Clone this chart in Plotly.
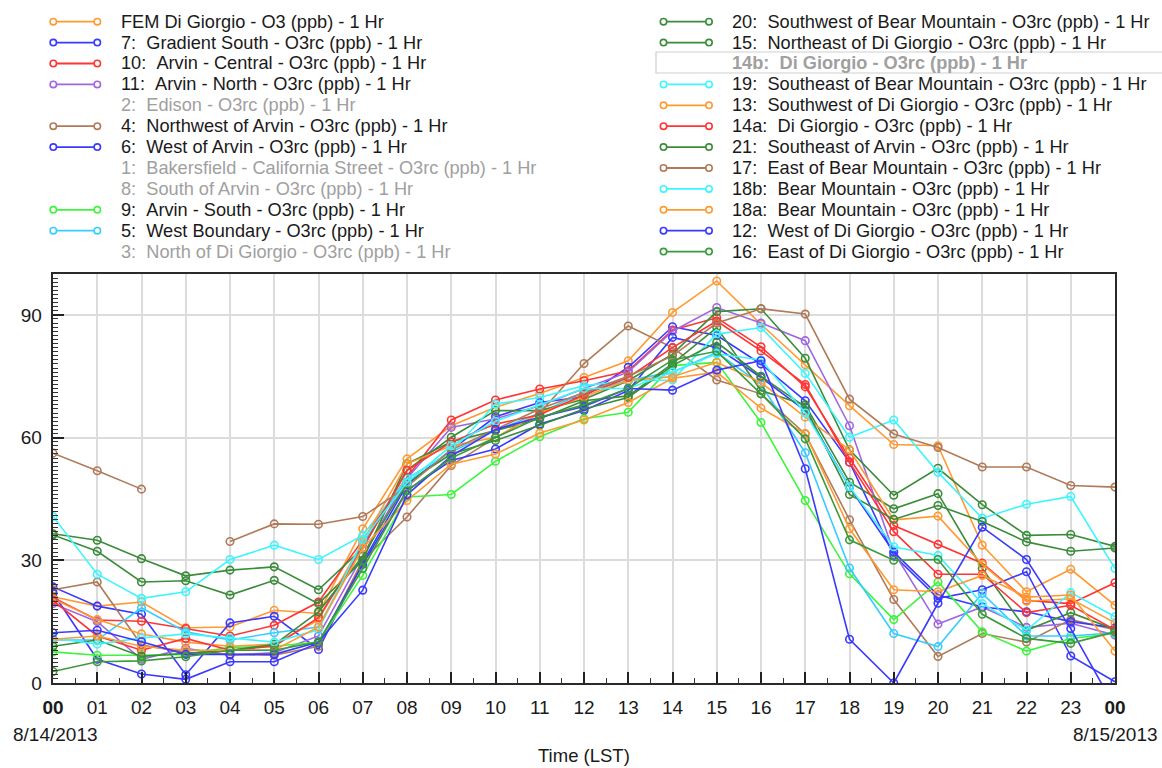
import plotly.graph_objects as go

W, H = 1162, 768

# ---------------- data: hourly O3, 8/14/2013 00:00 to 8/15/2013 00:00 (ppb) ----------------
hours = list(range(25))
hour_labels = ["<b>00</b>"] + [f"{h:02d}" for h in range(1, 24)] + ["<b>00</b>"]

fem_di_giorgio = [21.1, 18.8, 19.8, 13.5, 13.7, 17.8, 17.0, 37.7, 54.8, 62.9, 67.4, 70.8, 74.7,
                  78.8, 90.6, 98.3, 87.7, 77.8, 67.8, 58.3, 58.0, 33.7, 22.3, 27.8, 19.0]
gradient_south_7 = [23.5, 18.8, 16.8, 2.0, 14.7, 16.3, 8.2, 29.5, 48.5, 57.0, 65.1, 68.6, 70.0,
                    77.2, 87.1, 85.0, 78.0, 69.0, 54.0, 31.2, 20.7, 22.8, 27.2, 6.6, 0.3]
arvin_central_10 = [20.9, 15.4, 15.1, 13.3, 11.5, 14.1, 19.8, 35.0, 50.3, 64.3, 69.2, 71.9, 73.9,
                    76.3, 86.3, 89.3, 82.2, 72.4, 55.0, 38.5, 33.9, 29.3, 20.2, 19.4, 24.5]
arvin_north_11 = [19.4, 15.0, 5.8, 8.5, 6.8, 7.4, 11.5, 31.2, 50.0, 62.5, 64.6, 67.8, 72.0,
                  76.0, 86.0, 91.8, 88.0, 83.7, 62.9, 32.0, 14.4, 18.6, 13.6, 14.6, 11.7]
nw_of_arvin_4 = [22.8, 24.7, 9.3, 7.5, 7.0, 6.8, 9.0, 30.0, 40.6, 53.2, 60.0, 66.0, 78.1,
                 87.3, 82.0, 74.1, 70.7, 60.9, 39.9, 20.4, 6.5, 12.1, 10.0, 15.5, 13.0]
west_of_arvin_6 = [22.0, 5.8, 2.2, 0.9, 5.2, 5.2, 9.8, 29.0, 47.1, 54.4, 57.2, 63.3, 66.6,
                   71.5, 84.5, 82.0, 74.7, 66.6, 47.9, 32.0, 21.5, 18.6, 17.4, 15.0, 13.5]
arvin_south_9 = [7.6, 6.8, 6.8, 7.0, 8.7, 9.0, 10.0, 26.3, 45.5, 46.1, 54.2, 60.2, 64.6,
                 66.2, 77.6, 78.4, 63.7, 44.6, 26.7, 15.5, 24.7, 12.5, 7.8, 10.9, 12.1]
west_boundary_5 = [10.5, 10.5, 18.4, 12.5, 10.5, 12.3, 13.7, 34.0, 50.0, 56.5, 61.7, 66.0, 71.0,
                   74.0, 76.0, 80.8, 73.0, 56.3, 28.1, 12.1, 8.9, 21.9, 11.5, 11.5, 12.3]
sw_bear_mtn_20 = [36.5, 34.9, 30.4, 26.2, 27.6, 28.4, 22.8, 33.0, 52.0, 60.1, 66.6, 66.6, 69.4,
                  73.9, 80.4, 90.8, 91.5, 79.4, 57.0, 45.9, 52.5, 43.6, 36.1, 36.3, 33.4]
ne_di_giorgio_15 = [36.2, 32.2, 24.7, 25.0, 21.5, 25.1, 19.4, 30.0, 53.6, 59.0, 61.7, 64.6, 69.0,
                    70.2, 78.1, 86.9, 71.5, 68.0, 49.1, 42.6, 46.3, 28.0, 12.9, 17.2, 13.1]
se_bear_mtn_19 = [40.7, 26.6, 20.7, 22.3, 30.2, 33.7, 30.2, 36.1, 50.0, 56.5, 68.2, 69.8, 72.7,
                  73.9, 74.1, 85.3, 86.9, 75.7, 60.1, 64.3, 51.5, 40.3, 43.7, 45.6, 28.0]
sw_di_giorgio_13 = [20.6, 15.5, 12.0, 10.0, 9.0, 9.5, 15.4, 34.5, 53.6, 58.0, 60.0, 66.0, 70.0,
                    74.0, 74.9, 78.4, 73.5, 65.0, 57.0, 39.9, 40.8, 29.0, 20.0, 20.6, 14.7]
di_giorgio_14a = [20.2, 11.5, 8.0, 10.9, 8.0, 9.0, 16.0, 33.0, 52.0, 58.9, 63.3, 65.6, 70.5,
                  74.7, 82.0, 88.5, 81.2, 73.0, 54.0, 37.0, 26.6, 26.6, 17.2, 19.0, 13.0]
se_of_arvin_21 = [9.0, 10.5, 6.5, 7.2, 8.0, 9.4, 17.4, 31.0, 49.0, 56.0, 59.3, 63.0, 67.0,
                  69.8, 77.6, 83.3, 75.0, 67.5, 46.1, 40.0, 43.4, 39.5, 34.5, 32.2, 33.0]
e_bear_mtn_17 = [56.2, 51.9, 47.4, None, 34.6, 38.9, 38.8, 40.7, 48.0, 57.0, 62.0, 67.0, 71.0,
                 75.0, 80.0, 88.0, 91.5, 90.2, 69.4, 60.9, 57.6, 52.8, 52.8, 48.3, 47.9]
bear_mtn_18b = [11.0, 9.5, 11.0, 12.0, 11.0, 10.0, 13.0, 35.0, 49.0, 58.0, 64.0, 68.0, 72.0,
                72.0, 76.0, 80.5, 79.0, 66.0, 48.0, 33.3, 31.2, 19.4, 12.9, 22.1, 16.2]
bear_mtn_18a = [10.7, 11.5, 9.0, 8.0, 8.0, 8.0, 13.7, 33.0, 44.6, 53.5, 56.0, 61.1, 64.3,
                68.6, 74.5, 76.0, 67.2, 61.0, 37.7, 22.8, 22.3, 26.3, 21.0, 21.5, 7.8]
w_di_giorgio_12 = [12.3, 12.9, 10.1, 7.0, 7.0, 7.0, 10.0, 22.7, 46.0, 55.5, 62.0, 65.0, 67.6,
                   72.0, 71.6, 76.5, 78.8, 52.4, 10.7, 0.0, 19.5, 38.1, 30.2, 13.3, -6.0]
e_di_giorgio_16 = [2.8, 5.2, 5.4, 6.4, 8.0, 8.0, 10.1, 28.0, 47.0, 55.0, 60.0, 65.0, 68.0,
                   72.0, 79.0, 81.1, 70.7, 59.7, 35.0, 30.0, 30.2, 16.8, 10.9, 9.7, 12.5]

ORANGE, BLUE, RED, PURPLE = "#ff9a33", "#3a3aff", "#ff3434", "#a066e0"
BROWN, LIME, SKY, DKGREEN = "#b07a58", "#3cf53c", "#38cdff", "#3a8c3a"
CYAN, GREEN = "#3ef5ff", "#3c9a3c"
HIDDEN = None

# legend columns: (label, series, colour); HIDDEN rows are switched off
left_column = [
    ("FEM Di Giorgio - O3 (ppb) - 1 Hr", fem_di_giorgio, ORANGE),
    ("7:  Gradient South - O3rc (ppb) - 1 Hr", gradient_south_7, BLUE),
    ("10:  Arvin - Central - O3rc (ppb) - 1 Hr", arvin_central_10, RED),
    ("11:  Arvin - North - O3rc (ppb) - 1 Hr", arvin_north_11, PURPLE),
    ("2:  Edison - O3rc (ppb) - 1 Hr", None, HIDDEN),
    ("4:  Northwest of Arvin - O3rc (ppb) - 1 Hr", nw_of_arvin_4, BROWN),
    ("6:  West of Arvin - O3rc (ppb) - 1 Hr", west_of_arvin_6, BLUE),
    ("1:  Bakersfield - California Street - O3rc (ppb) - 1 Hr", None, HIDDEN),
    ("8:  South of Arvin - O3rc (ppb) - 1 Hr", None, HIDDEN),
    ("9:  Arvin - South - O3rc (ppb) - 1 Hr", arvin_south_9, LIME),
    ("5:  West Boundary - O3rc (ppb) - 1 Hr", west_boundary_5, SKY),
    ("3:  North of Di Giorgio - O3rc (ppb) - 1 Hr", None, HIDDEN),
]
right_column = [
    ("20:  Southwest of Bear Mountain - O3rc (ppb) - 1 Hr", sw_bear_mtn_20, DKGREEN),
    ("15:  Northeast of Di Giorgio - O3rc (ppb) - 1 Hr", ne_di_giorgio_15, DKGREEN),
    ("14b:  Di Giorgio - O3rc (ppb) - 1 Hr", None, HIDDEN),
    ("19:  Southeast of Bear Mountain - O3rc (ppb) - 1 Hr", se_bear_mtn_19, CYAN),
    ("13:  Southwest of Di Giorgio - O3rc (ppb) - 1 Hr", sw_di_giorgio_13, ORANGE),
    ("14a:  Di Giorgio - O3rc (ppb) - 1 Hr", di_giorgio_14a, RED),
    ("21:  Southeast of Arvin - O3rc (ppb) - 1 Hr", se_of_arvin_21, DKGREEN),
    ("17:  East of Bear Mountain - O3rc (ppb) - 1 Hr", e_bear_mtn_17, BROWN),
    ("18b:  Bear Mountain - O3rc (ppb) - 1 Hr", bear_mtn_18b, CYAN),
    ("18a:  Bear Mountain - O3rc (ppb) - 1 Hr", bear_mtn_18a, ORANGE),
    ("12:  West of Di Giorgio - O3rc (ppb) - 1 Hr", w_di_giorgio_12, BLUE),
    ("16:  East of Di Giorgio - O3rc (ppb) - 1 Hr", e_di_giorgio_16, GREEN),
]

FONT = "Liberation Sans, Arial, sans-serif"
TXT = "#1a1a1a"
GREY = "#a0a0a0"
LEGEND_SIZE = 18.2

# plot-area placement in pixels
PX0, PX1 = 53, 1115
PY_BOTTOM, PY_TOP = 683, 274


def px(x):
    return x / W


def py(y):
    return 1 - y / H


fig = go.Figure()

for label, vals, color in left_column + right_column:
    if vals is None:
        continue
    fig.add_trace(go.Scatter(
        x=hours, y=vals, mode="lines+markers", name=label.replace("  ", " "),
        line=dict(color=color, width=1.6),
        marker=dict(symbol="circle-open", size=7.5, color=color, line=dict(width=1.6)),
        connectgaps=False, showlegend=False,
    ))

# ---------------- legend (two columns above the plot) ----------------
shapes, annotations = [], []
ROW0, ROW_STEP = 21.7, 20.9
columns = [(left_column, 53.3, 97.3, 118.5), (right_column, 663.5, 709.0, 730.0)]
for entries, lx0, lx1, tx in columns:
    for i, (label, vals, color) in enumerate(entries):
        yc = ROW0 + ROW_STEP * i
        text = label.replace("  ", " \u00a0")
        if color is None:
            if label.startswith("14b"):
                shapes.append(dict(type="rect", xref="paper", yref="paper",
                                   x0=px(656), x1=px(1175), y0=py(52), y1=py(73),
                                   line=dict(color="#cfcfcf", width=1.2), fillcolor="rgba(0,0,0,0)"))
                text = "<b>" + text + "</b>"
            annotations.append(dict(text=text, x=px(tx), y=py(yc), xref="paper", yref="paper",
                                    xanchor="left", yanchor="middle", showarrow=False,
                                    font=dict(family=FONT, size=LEGEND_SIZE, color=GREY)))
            continue
        shapes.append(dict(type="line", xref="paper", yref="paper",
                           x0=px(lx0), x1=px(lx1), y0=py(yc), y1=py(yc),
                           line=dict(color=color, width=1.8)))
        for cx in (lx0, lx1):
            shapes.append(dict(type="circle", xref="paper", yref="paper",
                               xsizemode="pixel", ysizemode="pixel",
                               xanchor=px(cx), yanchor=py(yc),
                               x0=-3.2, x1=3.2, y0=-3.2, y1=3.2,
                               line=dict(color=color, width=1.6), fillcolor="white"))
        annotations.append(dict(text=text, x=px(tx), y=py(yc), xref="paper", yref="paper",
                                xanchor="left", yanchor="middle", showarrow=False,
                                font=dict(family=FONT, size=LEGEND_SIZE, color=TXT)))

# date stamps and axis title under the time axis
annotations += [
    dict(text="8/14/2013", x=px(11), y=py(734), xref="paper", yref="paper", xanchor="left",
         yanchor="middle", showarrow=False, font=dict(family=FONT, size=19, color=TXT)),
    dict(text="8/15/2013", x=px(1160), y=py(734), xref="paper", yref="paper", xanchor="right",
         yanchor="middle", showarrow=False, font=dict(family=FONT, size=19, color=TXT)),
    dict(text="Time (LST)", x=px(584), y=py(768), xref="paper", yref="paper", xanchor="center",
         yanchor="bottom", showarrow=False, font=dict(family=FONT, size=18.5, color=TXT)),
]

tick_common = dict(ticks="inside", ticklen=11, tickwidth=1.5, tickcolor="#222",
                   tickfont=dict(family=FONT, size=19, color=TXT), automargin=False)
minor_y = dict(dtick=1, tick0=0, ticks="inside", ticklen=5, tickwidth=1, tickcolor="#333",
               showgrid=False)

fig.update_layout(
    template="none",
    width=W, height=H, autosize=False,
    margin=dict(l=0, r=0, t=0, b=0, pad=0),
    paper_bgcolor="white", plot_bgcolor="white",
    showlegend=False,
    shapes=shapes, annotations=annotations,
    xaxis=dict(
        domain=[px(PX0), px(PX1)], range=[0, 24],
        tickmode="array", tickvals=hours, ticktext=hour_labels,
        showgrid=True, gridcolor="#dcdcdc", gridwidth=2, zeroline=False,
        showline=True, linecolor="#2a2a2a", linewidth=2, mirror=True,
        minor=dict(dtick=0.5, tick0=0, ticks="inside", ticklen=5, tickwidth=1,
                   tickcolor="#333", showgrid=False),
        ticklabelstandoff=6,
        **tick_common,
    ),
    yaxis=dict(
        domain=[py(PY_BOTTOM), py(PY_TOP)], range=[0, 100],
        tickmode="linear", tick0=0, dtick=30, ticksuffix="\u00a0",
        showgrid=True, gridcolor="#dcdcdc", gridwidth=2, zeroline=False,
        showline=True, linecolor="#2a2a2a", linewidth=2, mirror=True,
        minor=minor_y,
        **tick_common,
    ),
    yaxis2=dict(
        overlaying="y", side="right", anchor="x", range=[0, 100],
        tickmode="linear", tick0=0, dtick=30, tickprefix="\u00a0\u2009",
        showgrid=False, zeroline=False, showline=False,
        minor=minor_y,
        **tick_common,
    ),
)

fig.write_html("out.html")
